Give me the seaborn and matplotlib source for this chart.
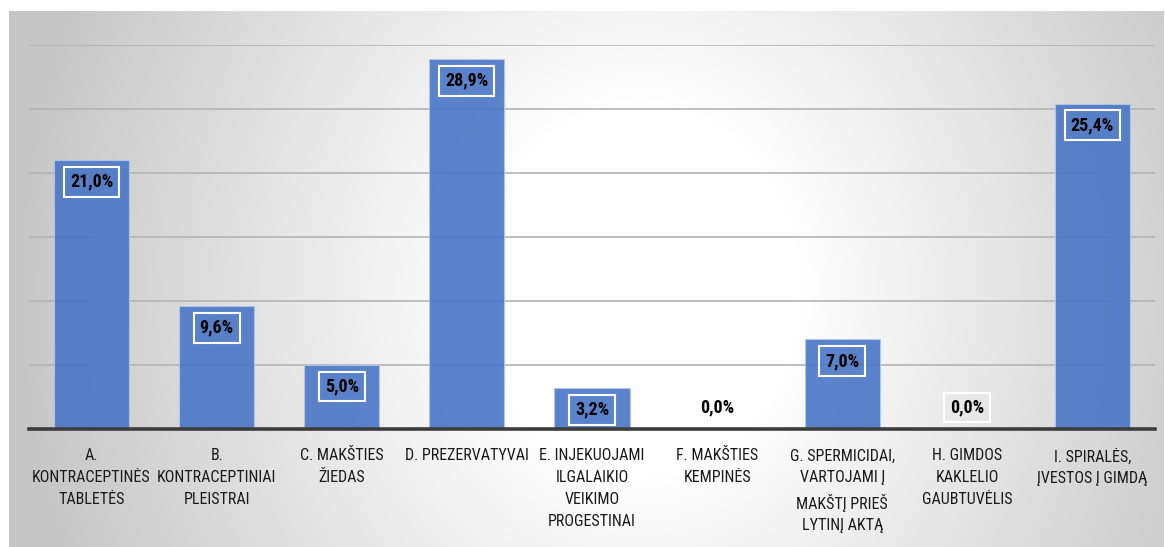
import numpy as np
import matplotlib
matplotlib.use("Agg")
import matplotlib.pyplot as plt
from matplotlib import font_manager
import seaborn as sns

categories = [
    "A.\nKONTRACEPTINĖS\nTABLETĖS",
    "B.\nKONTRACEPTINIAI\nPLEISTRAI",
    "C. MAKŠTIES\nŽIEDAS",
    "D. PREZERVATYVAI",
    "E. INJEKUOJAMI\nILGALAIKIO\nVEIKIMO\nPROGESTINAI",
    "F. MAKŠTIES\nKEMPINĖS",
    "G. SPERMICIDAI,\nVARTOJAMI Į\nMAKŠTĮ PRIEŠ\nLYTINĮ AKTĄ",
    "H. GIMDOS\nKAKLELIO\nGAUBTUVĖLIS",
    "I. SPIRALĖS,\nĮVESTOS Į GIMDĄ",
]
values = [21.0, 9.6, 5.0, 28.9, 3.2, 0.0, 7.0, 0.0, 25.4]
value_labels = ["21,0%", "9,6%", "5,0%", "28,9%", "3,2%", "0,0%", "7,0%", "0,0%", "25,4%"]

sns.set_theme(style="white")

available = {f.name for f in font_manager.fontManager.ttflist}
condensed = [n for n in ["Liberation Sans Narrow", "Roboto Condensed",
                         "Open Sans Condensed", "Noto Sans Condensed"] if n in available]
if condensed:
    base_font, tick_size, tick_spacing = condensed[0], 11.5, 1.56
else:
    base_font, tick_size, tick_spacing = "Roboto", 9.6, 1.85
plt.rcParams["font.family"] = [base_font, "DejaVu Sans"]

W, H = 1165, 547
fig = plt.figure(figsize=(W / 100, H / 100), dpi=100)
fig.patch.set_facecolor("white")

# radial grey-to-white backdrop behind the chart
bg = fig.add_axes([9 / W, 0, (1164 - 9) / W, (547 - 11) / H], zorder=-5)
nx, ny = 600, 300
xx, yy = np.meshgrid(np.linspace(9, 1164, nx), np.linspace(11, 547, ny))
r = np.sqrt(((xx - 640) / 620) ** 2 + ((yy - 290) / 720) ** 2)
t = np.clip((r - 0.25) / 0.75, 0, 1)
shade = 1.0 - t * (1.0 - 0.78)
bg.imshow(np.dstack([shade, shade, shade]), aspect="auto",
          extent=[0, 1, 0, 1], origin="upper", interpolation="bilinear")
bg.set_axis_off()

ax = fig.add_axes([29 / W, 1 - 429 / H, (1155 - 29) / W, (429 - 45) / H])
ax.set_facecolor("none")

sns.barplot(x=list(range(len(values))), y=values, color="#4976c6", saturation=1,
            width=0.6, alpha=0.9, edgecolor="#b4c6ea", linewidth=0.8, ax=ax, zorder=3)

ax.set_ylim(0, 30)
ax.set_xlim(-0.5, len(values) - 0.5)
ax.set_yticks([5, 10, 15, 20, 25, 30])
ax.yaxis.grid(True, color="#b3b3b3", linewidth=1.2, zorder=0)
ax.set_axisbelow(True)
ax.tick_params(axis="y", left=False, labelleft=False)
ax.tick_params(axis="x", bottom=False, pad=8)
ax.set_xticks(range(len(categories)))
ax.set_xticklabels(categories, fontsize=tick_size, color="#1a1a1a",
                   linespacing=tick_spacing, va="top")
ax.set_xlabel("")
ax.set_ylabel("")
for side in ["left", "right", "top"]:
    ax.spines[side].set_visible(False)
ax.spines["bottom"].set_color("#3c3c3c")
ax.spines["bottom"].set_linewidth(2.6)
ax.spines["bottom"].set_zorder(5)

# value labels at the inside end of each bar
for i, (v, lab) in enumerate(zip(values, value_labels)):
    off = -15.5 if v > 0 else 15.5
    ax.annotate(lab, xy=(i, v), xytext=(0, off), textcoords="offset points",
                ha="center", va="center", fontsize=13, fontweight="bold",
                color="black", zorder=6,
                bbox=dict(boxstyle="square,pad=0.33", facecolor="none",
                          edgecolor="white", linewidth=1.5))

fig.savefig("out.png", dpi=100)
